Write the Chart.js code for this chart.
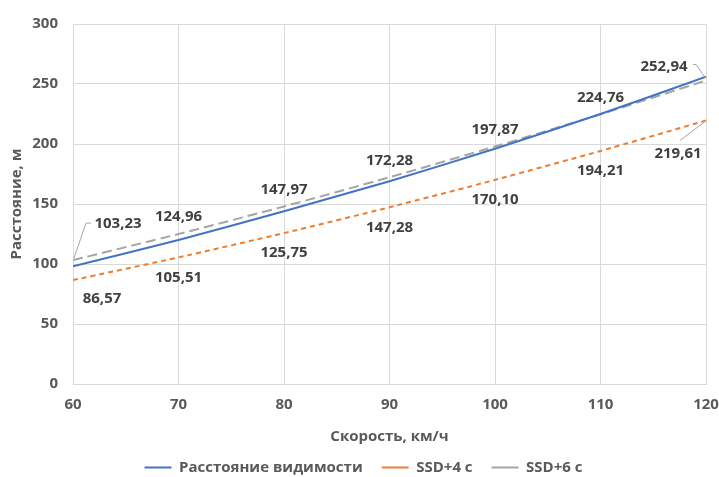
<!DOCTYPE html>
<html>
<head>
<meta charset="utf-8">
<script src="https://cdn.jsdelivr.net/npm/chart.js@4"></script>
<style>
  body { margin: 0; background: #fff; }
  #wrap { width: 719px; height: 477px; }
</style>
</head>
<body>
<div id="wrap"><canvas id="ssd"></canvas></div>
<script>
const speeds = [60, 70, 80, 90, 100, 110, 120];
const visibility = [98, 120, 144, 169, 196, 225, 256];
const ssd4 = [86.57, 105.51, 125.75, 147.28, 170.10, 194.21, 219.61];
const ssd6 = [103.23, 124.96, 147.97, 172.28, 197.87, 224.76, 252.94];

const pts = arr => speeds.map((s, i) => ({ x: s, y: arr[i] }));
const fmt = v => v.toFixed(2).replace('.', ',');

// label offsets [dx, dy] from the point, per dataset index
const labelOffsets = {
  1: [[29, 19], [0, 20], [0, 20], [0, 20], [0, 20], [0, 20], [-28, 33]],
  2: [[45, -36], [0, -17], [0, -17], [0, -17], [0, -17], [0, -17], [-42, -14]]
};

const valueLabels = {
  id: 'valueLabels',
  afterDatasetsDraw(chart) {
    const ctx = chart.ctx;
    ctx.save();
    ctx.font = 'bold 15px "Open Sans"';
    ctx.fillStyle = '#404040';
    ctx.textAlign = 'center';
    ctx.textBaseline = 'middle';
    [1, 2].forEach(di => {
      const meta = chart.getDatasetMeta(di);
      const vals = chart.data.datasets[di].data;
      meta.data.forEach((p, i) => {
        const [dx, dy] = labelOffsets[di][i];
        ctx.fillText(fmt(vals[i].y), p.x + dx, p.y + dy);
      });
    });
    // leader lines
    ctx.strokeStyle = '#a6a6a6';
    ctx.lineWidth = 1;
    const g = chart.getDatasetMeta(2).data;
    const o = chart.getDatasetMeta(1).data;
    ctx.beginPath();
    ctx.moveTo(g[0].x + 1, g[0].y - 2);
    ctx.lineTo(g[0].x + 13, g[0].y - 37);
    ctx.lineTo(g[0].x + 18, g[0].y - 37);
    const last = g.length - 1;
    ctx.moveTo(g[last].x - 1, g[last].y - 3);
    ctx.lineTo(g[last].x - 10, g[last].y - 16);
    ctx.lineTo(g[last].x - 13, g[last].y - 16);
    ctx.moveTo(o[last].x - 1, o[last].y + 1);
    ctx.lineTo(o[last].x - 26, o[last].y + 20);
    ctx.stroke();
    ctx.restore();
  }
};

const tickFont = { family: '"Open Sans"', size: 15, weight: 'bold' };
const titleFont = { family: '"Open Sans"', size: 15, weight: 'bold' };

new Chart(document.getElementById('ssd'), {
  type: 'line',
  data: {
    datasets: [{
      label: 'Расстояние видимости',
      data: pts(visibility),
      borderColor: '#4472c4',
      backgroundColor: '#4472c4',
      borderWidth: 2,
      pointRadius: 0,
      tension: 0.2
    }, {
      label: 'SSD+4 с',
      data: pts(ssd4),
      borderColor: '#ed7d31',
      backgroundColor: '#ed7d31',
      borderWidth: 2,
      borderDash: [5, 4],
      pointRadius: 0,
      tension: 0.2
    }, {
      label: 'SSD+6 с',
      data: pts(ssd6),
      borderColor: '#a5a5a5',
      backgroundColor: '#a5a5a5',
      borderWidth: 2,
      borderDash: [10, 5],
      pointRadius: 0,
      tension: 0.2
    }]
  },
  options: {
    responsive: true,
    maintainAspectRatio: false,
    animation: false,
    layout: { padding: { left: 8, right: 0, top: 12, bottom: -8 } },
    plugins: {
      tooltip: { enabled: false },
      legend: {
        position: 'bottom',
        labels: {
          usePointStyle: true,
          pointStyle: 'line',
          pointStyleWidth: 27,
          color: '#595959',
          font: titleFont,
          padding: 4,
          // widen the gap between legend items
          generateLabels: chart => {
            const items = Chart.defaults.plugins.legend.labels.generateLabels(chart);
            items.forEach((it, i) => { if (i < items.length - 1) it.text += '\u2002\u2002'; });
            return items;
          }
        }
      }
    },
    scales: {
      x: {
        type: 'linear',
        min: 60,
        max: 120,
        afterFit: s => { s.paddingRight = 13; },
        ticks: { stepSize: 10, color: '#595959', font: tickFont, padding: 12 },
        grid: { color: '#d9d9d9', drawTicks: false },
        border: { color: '#d9d9d9' },
        title: { display: true, text: 'Скорость, км/ч', color: '#595959', font: titleFont, padding: { top: 2, bottom: 10 } }
      },
      y: {
        min: 0,
        max: 300,
        afterFit: s => { s.width = 65; },
        ticks: { stepSize: 50, color: '#595959', font: tickFont, padding: 15 },
        grid: { color: '#d9d9d9', drawTicks: false },
        border: { color: '#d9d9d9' },
        title: { display: true, text: 'Расстояние, м', color: '#595959', font: titleFont, padding: { top: 0, bottom: 4 } }
      }
    }
  },
  plugins: [valueLabels]
});
</script>
</body>
</html>
